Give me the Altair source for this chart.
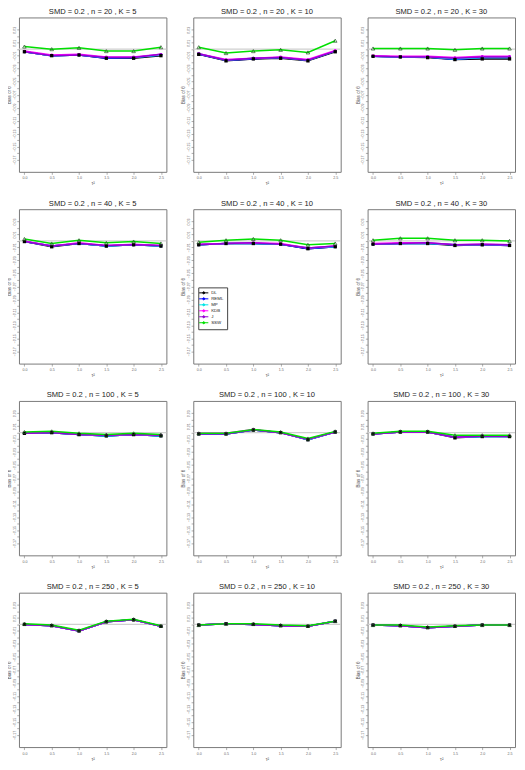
import altair as alt
import pandas as pd

tau2 = [0.0, 0.5, 1.0, 1.5, 2.0, 2.5]
methods = ["DL", "REML", "MP", "KDB", "J", "SSW"]
colors = ["#000000", "#0000FF", "#00E5E5", "#FF00FF", "#9400D3", "#00E000"]

# Bias series per panel, rows in the order DL, REML, MP, KDB, J, SSW
n20_k5 = [
    [-0.004, -0.010, -0.009, -0.014, -0.014, -0.010],
    [-0.004, -0.010, -0.009, -0.014, -0.013, -0.009],
    [-0.004, -0.010, -0.009, -0.013, -0.013, -0.009],
    [-0.003, -0.009, -0.008, -0.012, -0.012, -0.008],
    [-0.004, -0.010, -0.009, -0.013, -0.013, -0.008],
    [0.004, 0.000, 0.002, -0.003, -0.003, 0.003],
]
n20_k10 = [
    [-0.008, -0.018, -0.015, -0.014, -0.018, -0.004],
    [-0.008, -0.017, -0.015, -0.013, -0.017, -0.003],
    [-0.007, -0.017, -0.014, -0.013, -0.017, -0.003],
    [-0.007, -0.016, -0.014, -0.012, -0.016, -0.002],
    [-0.007, -0.017, -0.014, -0.013, -0.017, -0.003],
    [0.003, -0.006, -0.003, -0.001, -0.005, 0.013],
]
n20_k30 = [
    [-0.011, -0.012, -0.013, -0.016, -0.015, -0.015],
    [-0.011, -0.012, -0.012, -0.016, -0.013, -0.013],
    [-0.011, -0.012, -0.012, -0.015, -0.013, -0.013],
    [-0.010, -0.011, -0.011, -0.013, -0.011, -0.011],
    [-0.011, -0.012, -0.012, -0.014, -0.012, -0.012],
    [0.001, 0.001, 0.001, -0.001, 0.001, 0.001],
]
n40_k5 = [
    [-0.001, -0.009, -0.004, -0.008, -0.006, -0.008],
    [-0.001, -0.008, -0.004, -0.008, -0.006, -0.008],
    [-0.001, -0.008, -0.004, -0.008, -0.006, -0.008],
    [0.000, -0.008, -0.003, -0.007, -0.005, -0.007],
    [-0.001, -0.008, -0.004, -0.007, -0.006, -0.007],
    [0.003, -0.004, 0.001, -0.003, -0.001, -0.004],
]
n40_k10 = [
    [-0.006, -0.004, -0.004, -0.005, -0.012, -0.009],
    [-0.006, -0.004, -0.004, -0.005, -0.012, -0.009],
    [-0.006, -0.004, -0.004, -0.005, -0.011, -0.009],
    [-0.005, -0.004, -0.003, -0.004, -0.011, -0.008],
    [-0.006, -0.004, -0.003, -0.005, -0.011, -0.008],
    [-0.002, 0.001, 0.003, 0.001, -0.006, -0.004],
]
n40_k30 = [
    [-0.005, -0.004, -0.004, -0.007, -0.006, -0.007],
    [-0.005, -0.004, -0.004, -0.006, -0.006, -0.007],
    [-0.005, -0.004, -0.004, -0.006, -0.006, -0.006],
    [-0.004, -0.003, -0.003, -0.006, -0.005, -0.006],
    [-0.005, -0.004, -0.003, -0.006, -0.005, -0.006],
    [0.001, 0.004, 0.004, 0.001, 0.001, 0.000],
]
n100_k5 = [
    [-0.001, 0.000, -0.003, -0.005, -0.003, -0.005],
    [-0.001, 0.000, -0.003, -0.005, -0.003, -0.005],
    [-0.001, 0.000, -0.003, -0.005, -0.003, -0.005],
    [-0.001, 0.001, -0.003, -0.004, -0.003, -0.004],
    [-0.001, 0.000, -0.003, -0.004, -0.003, -0.004],
    [0.001, 0.002, -0.001, -0.003, -0.001, -0.003],
]
n100_k10 = [
    [-0.002, -0.002, 0.004, 0.000, -0.011, 0.001],
    [-0.002, -0.002, 0.004, 0.000, -0.011, 0.001],
    [-0.002, -0.002, 0.004, 0.000, -0.011, 0.001],
    [-0.001, -0.001, 0.005, 0.000, -0.010, 0.001],
    [-0.002, -0.002, 0.004, 0.000, -0.010, 0.001],
    [-0.001, -0.001, 0.005, 0.001, -0.009, 0.002],
]
n100_k30 = [
    [-0.002, 0.001, 0.001, -0.008, -0.006, -0.006],
    [-0.002, 0.001, 0.001, -0.007, -0.006, -0.006],
    [-0.002, 0.001, 0.001, -0.007, -0.006, -0.006],
    [-0.002, 0.001, 0.001, -0.007, -0.005, -0.005],
    [-0.002, 0.001, 0.001, -0.007, -0.005, -0.006],
    [-0.001, 0.002, 0.002, -0.004, -0.004, -0.004],
]
n250_k5 = [
    [0.000, -0.002, -0.010, 0.004, 0.007, -0.003],
    [0.000, -0.002, -0.010, 0.004, 0.007, -0.003],
    [0.000, -0.002, -0.010, 0.004, 0.007, -0.003],
    [0.000, -0.002, -0.010, 0.004, 0.007, -0.003],
    [0.000, -0.002, -0.010, 0.004, 0.007, -0.003],
    [0.001, -0.001, -0.009, 0.005, 0.008, -0.002],
]
n250_k10 = [
    [-0.001, 0.001, 0.000, -0.002, -0.003, 0.005],
    [-0.001, 0.001, 0.000, -0.002, -0.003, 0.005],
    [-0.001, 0.001, 0.000, -0.002, -0.003, 0.005],
    [-0.001, 0.001, 0.000, -0.002, -0.003, 0.005],
    [-0.001, 0.001, 0.000, -0.002, -0.003, 0.005],
    [-0.001, 0.001, 0.001, -0.001, -0.002, 0.005],
]
n250_k30 = [
    [-0.001, -0.002, -0.005, -0.003, -0.001, -0.001],
    [-0.001, -0.002, -0.005, -0.003, -0.001, -0.001],
    [-0.001, -0.002, -0.005, -0.003, -0.001, -0.001],
    [-0.001, -0.002, -0.005, -0.003, -0.001, -0.001],
    [-0.001, -0.002, -0.005, -0.003, -0.001, -0.001],
    [-0.001, -0.001, -0.004, -0.002, -0.001, -0.001],
]

panels = [
    (20, 5, n20_k5), (20, 10, n20_k10), (20, 30, n20_k30),
    (40, 5, n40_k5), (40, 10, n40_k10), (40, 30, n40_k30),
    (100, 5, n100_k5), (100, 10, n100_k10), (100, 30, n100_k30),
    (250, 5, n250_k5), (250, 10, n250_k10), (250, 30, n250_k30),
]

yvals = [round(-0.17 + 0.01 * i, 2) for i in range(21)]

X = alt.X(
    "tau2:Q",
    scale=alt.Scale(domain=[-0.1, 2.6], nice=False, zero=False),
    axis=alt.Axis(values=tau2, format=".1f", title="τ²", labelFontSize=3.6,
                  titleFontSize=4.6, tickSize=2.5, labelPadding=1.5, titlePadding=1.5,
                  titleColor="#555", labelColor="#666"),
)
Y = alt.Y(
    "bias:Q",
    scale=alt.Scale(domain=[-0.1888, 0.0488], nice=False, zero=False),
    axis=alt.Axis(
        values=yvals,
        labelExpr="abs(round(datum.value*100)) % 2 == 1 ? format(datum.value, '.2f') : ''",
        title="Bias of θ", labelAngle=270, labelAlign="center", labelBaseline="bottom",
        labelFontSize=3.6, titleFontSize=4.6, tickSize=2.2, labelPadding=0.6,
        titlePadding=0.8, titleColor="#555", labelColor="#666",
    ),
)
legend_symbol = "M-2.3,0H2.3M0.5,0A0.5,0.5,0,1,1,-0.5,0A0.5,0.5,0,1,1,0.5,0Z"
C = alt.Color(
    "method:N",
    scale=alt.Scale(domain=methods, range=colors),
    legend=alt.Legend(
        title=None, orient="none", legendX=180, legendY=271, direction="vertical",
        strokeColor="#444", fillColor="white", padding=3, labelFontSize=4.4,
        symbolType=legend_symbol, symbolSize=16, symbolStrokeWidth=1.0,
        labelOffset=5, rowPadding=-2.1, labelColor="#222",
    ),
)

charts = []
for n, k, series in panels:
    rows = []
    for m, vals in zip(methods, series):
        for t, v in zip(tau2, vals):
            rows.append({"tau2": t, "bias": v, "method": m})
    df = pd.DataFrame(rows)
    zero = alt.Chart(pd.DataFrame({"bias": [0.0]})).mark_rule(
        color="#cfcfcf", strokeWidth=1.4).encode(y=Y)
    layers = [zero]
    for m in methods:
        layers.append(alt.Chart(df[df.method == m]).mark_line(strokeWidth=1.5).encode(
            x=X, y=Y, color=C))
    for m in ["REML", "MP", "KDB", "J"]:
        layers.append(alt.Chart(df[df.method == m]).mark_point(
            shape="circle", filled=True, size=8, opacity=1).encode(x=X, y=Y, color=C))
    layers.append(alt.Chart(df[df.method == "DL"]).mark_point(
        shape="square", filled=True, size=11, opacity=1).encode(x=X, y=Y, color=C))
    layers.append(alt.Chart(df[df.method == "SSW"]).mark_point(
        shape="triangle-up", filled=False, size=13, strokeWidth=0.7, opacity=1,
        color="#225522").encode(x=X, y=Y))
    title = f"SMD = 0.2 , n = {n} , K = {k}"
    charts.append(alt.layer(*layers).properties(
        width=148, height=155,
        title=alt.Title(title, fontSize=7.6, offset=2, fontWeight=400,
                        font="Liberation Sans", color="#222"),
    ))

chart = alt.concat(*charts, columns=3, spacing={"row": 37.5, "column": 27},
                   bounds="flush").properties(
    padding={"left": -3, "top": -3, "right": 0, "bottom": 0},
).configure(
    font="Liberation Sans", background="white",
).configure_view(
    stroke="#7a7a7a", strokeWidth=1,
).configure_axis(
    domain=False, grid=False, tickColor="#777", tickWidth=0.6,
    labelFont="Liberation Sans", titleFont="Liberation Sans", titleFontWeight="normal",
)

chart.save("out.html", embed_options={"renderer": "svg", "actions": False})
